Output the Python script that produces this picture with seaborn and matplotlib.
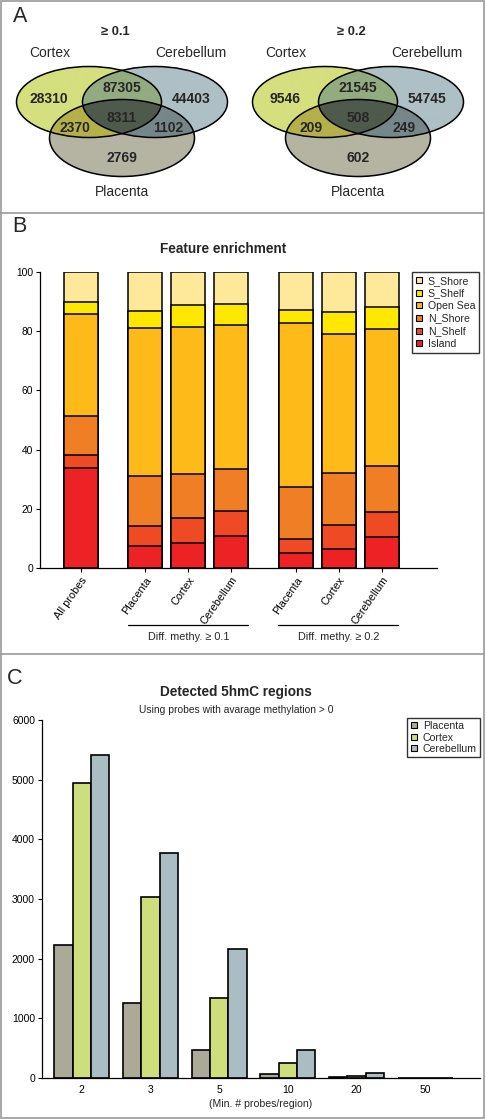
import numpy as np
import pandas as pd
import matplotlib
matplotlib.use("Agg")
import matplotlib.pyplot as plt
import seaborn as sns
from matplotlib.patches import Ellipse, Rectangle
from matplotlib.lines import Line2D

# --- Panel A : Venn counts (Cortex only, Cerebellum only, Placenta only,
#     Cx&Cb, Cx&Pl, Cb&Pl, all three)
venn_titles = ["\u2265 0.1", "\u2265 0.2"]
venn_sets = ["Cortex", "Cerebellum", "Placenta"]
venn_counts_01 = [28310, 44403, 2769, 87305, 2370, 1102, 8311]
venn_counts_02 = [9546, 54745, 602, 21545, 209, 249, 508]

# --- Panel B : feature enrichment (% of probes per feature)
features = ["Island", "N_Shelf", "N_Shore", "Open Sea", "S_Shelf", "S_Shore"]
samples = ["All probes", "Placenta", "Cortex", "Cerebellum", "Placenta", "Cortex", "Cerebellum"]
island = [33.7, 7.5, 8.6, 10.9, 5.0, 6.5, 10.4]
n_shelf = [4.6, 6.6, 8.2, 8.4, 4.7, 8.1, 8.4]
n_shore = [13.2, 17.1, 14.8, 14.3, 17.6, 17.6, 15.6]
open_sea = [34.2, 49.9, 49.8, 48.4, 55.4, 46.8, 46.3]
s_shelf = [4.3, 5.7, 7.5, 7.2, 4.4, 7.5, 7.6]
s_shore = [10.0, 13.2, 11.1, 10.8, 12.9, 13.5, 11.7]
group_labels = ["Diff. methy. \u2265 0.1", "Diff. methy. \u2265 0.2"]

# --- Panel C : detected 5hmC regions
min_probes = ["2", "3", "5", "10", "20", "50"]
tissues = ["Placenta", "Cortex", "Cerebellum"]
placenta_regions = [2232, 1261, 469, 73, 10, 2]
cortex_regions = [4951, 3026, 1345, 246, 40, 5]
cerebellum_regions = [5420, 3779, 2155, 475, 78, 8]

sns.set_theme(style="white")
plt.rcParams["font.family"] = ["Liberation Sans", "DejaVu Sans"]

W, H = 486, 1119
fig = plt.figure(figsize=(W / 100, H / 100), dpi=100)


def fx(x):
    return x / W


def fy(y):
    return 1 - y / H


# frame lines
frame = "#9a9a9a"
fig.add_artist(Rectangle((fx(0.5), fy(1117.5)), fx(484) - fx(0.5), fy(0.5) - fy(1117.5),
                         transform=fig.transFigure, fill=False, edgecolor=frame, lw=1.2))
for yy in [213, 654]:
    fig.add_artist(Line2D([0, fx(484)], [fy(yy), fy(yy)], transform=fig.transFigure,
                          color=frame, lw=1.2))

for letter, (lx, ly) in zip("ABC", [(20, 17), (19, 227), (15, 678)]):
    fig.text(fx(lx), fy(ly), letter, ha="center", va="center", fontsize=15.5)

# ---------------- Panel A ----------------
axA = fig.add_axes([0, fy(212), 1, 212 / H])
axA.set_xlim(0, W)
axA.set_ylim(212, 0)
axA.axis("off")

region_colors = ["#d5df7e", "#aec0c5", "#b5b4a3", "#93ab80", "#b4b04a", "#76868a", "#4e5a4c"]
ell_dx, ell_w, ell_h, pl_h = 33, 145, 71, 77
venn_cx = [122, 358]

xs = np.linspace(0, W, 2 * W + 1)
ys = np.linspace(0, 212, 2 * 212 + 1)
gx, gy = np.meshgrid(xs, ys)
img = np.zeros(gx.shape + (4,))


def inside(cx, cy, w, h):
    return ((gx - cx) / (w / 2)) ** 2 + ((gy - cy) / (h / 2)) ** 2 <= 1


code_to_region = {1: 0, 2: 1, 4: 2, 3: 3, 5: 4, 6: 5, 7: 6}
ellipses = []
for cx in venn_cx:
    geo = [(cx - ell_dx, 102, ell_w, ell_h), (cx + ell_dx, 102, ell_w, ell_h), (cx, 138, ell_w, pl_h)]
    ellipses.append(geo)
    code = sum(inside(*g).astype(int) * (2 ** i) for i, g in enumerate(geo))
    for c, r in code_to_region.items():
        img[code == c] = matplotlib.colors.to_rgba(region_colors[r])

axA.imshow(img, extent=(0, W, 212, 0), interpolation="antialiased", zorder=1)

count_offsets = [(-73, 99), (69, 99), (0, 158), (0, 88), (-47, 128), (46, 128), (0, 118)]
for cx, geo, counts, title in zip(venn_cx, ellipses, [venn_counts_01, venn_counts_02], venn_titles):
    for g in geo:
        axA.add_patch(Ellipse((g[0], g[1]), g[2], g[3], fill=False, edgecolor="black", lw=1.1, zorder=2))
    for (dx, yy), n in zip(count_offsets, counts):
        axA.text(cx + dx, yy, str(n), ha="center", va="center", fontsize=10, fontweight="bold", zorder=3)
    axA.text(cx - 72, 53, venn_sets[0], ha="center", va="center", fontsize=10)
    axA.text(cx + 69, 53, venn_sets[1], ha="center", va="center", fontsize=10)
    axA.text(cx, 192, venn_sets[2], ha="center", va="center", fontsize=10)
    axA.text(cx - 7, 32, title, ha="center", va="center", fontsize=9.3, fontweight="bold")

# ---------------- Panel B ----------------
axB = fig.add_axes([fx(40), fy(568), (437 - 40) / W, (568 - 272) / H])
bar_pos = [0, 1.5, 2.5, 3.5, 5, 6, 7]
feat_colors = ["#ed2224", "#ee4b24", "#ef7e24", "#fdba18", "#ffe800", "#fee99b"]
seg = np.array([island, n_shelf, n_shore, open_sea, s_shelf, s_shore])
cum = np.cumsum(seg, axis=0)
dfB = pd.DataFrame({"pos": bar_pos, "sample": samples})
for i in range(len(features) - 1, -1, -1):
    dfB["cum"] = np.minimum(cum[i], 100)
    sns.barplot(data=dfB, x="pos", y="cum", native_scale=True, color=feat_colors[i], saturation=1,
                edgecolor="black", linewidth=1.1, width=0.79, errorbar=None, ax=axB)

axB.set_xlim(-0.95, 8.28)
axB.set_ylim(0, 100)
axB.set_yticks(range(0, 101, 20))
axB.set_xticks(bar_pos)
axB.set_xticklabels(samples, rotation=55, ha="right", rotation_mode="anchor", fontsize=7.8)
axB.tick_params(axis="y", labelsize=7.4, length=3, width=0.8, left=True, pad=2, colors="black")
axB.tick_params(axis="x", length=3, width=0.8, bottom=True, pad=2, colors="black")
axB.set_xlabel("")
axB.set_ylabel("")
for s in ["top", "right"]:
    axB.spines[s].set_visible(False)
for s in ["left", "bottom"]:
    axB.spines[s].set_color("black")
    axB.spines[s].set_linewidth(0.9)

for (a, b), lab in zip([(1.5, 3.5), (5, 7)], group_labels):
    axB.plot([a - 0.41, b + 0.38], [-0.193, -0.193], color="black", lw=0.9, clip_on=False,
             transform=axB.get_xaxis_transform())
    axB.text((a + b) / 2, -0.233, lab, ha="center", va="center", fontsize=7.8,
             transform=axB.get_xaxis_transform())

handlesB = [Line2D([], [], marker="s", ls="", markersize=5, markerfacecolor=feat_colors[i],
                   markeredgecolor="black", markeredgewidth=0.8) for i in range(len(features) - 1, -1, -1)]
legB = axB.legend(handlesB, features[::-1], loc="upper right", bbox_to_anchor=(1.106, 1.0),
                  fontsize=7.6, frameon=True, fancybox=False, borderaxespad=0, handlelength=0.8,
                  handletextpad=0.4, labelspacing=0.25, borderpad=0.35)
legB.get_frame().set_edgecolor("black")
legB.get_frame().set_linewidth(1.0)
fig.text(fx(223), fy(249), "Feature enrichment", ha="center", va="center", fontsize=9.8, fontweight="bold")

# ---------------- Panel C ----------------
axC = fig.add_axes([fx(42), fy(1078), (480 - 42) / W, (1078 - 720) / H])
dfC = pd.DataFrame({
    "probes": min_probes * 3,
    "tissue": np.repeat(tissues, len(min_probes)),
    "regions": placenta_regions + cortex_regions + cerebellum_regions,
})
sns.barplot(data=dfC, x="probes", y="regions", hue="tissue", order=min_probes, hue_order=tissues,
            palette=["#abaa98", "#cfde7c", "#aabdc2"], saturation=1, edgecolor="black",
            linewidth=1.2, width=0.8, errorbar=None, ax=axC)
axC.set_xlim(-0.58, 5.8)
axC.set_ylim(0, 6000)
axC.set_yticks(range(0, 6001, 1000))
axC.tick_params(axis="y", labelsize=7.5, length=3, width=0.8, left=True, pad=2, colors="black")
axC.tick_params(axis="x", labelsize=7.5, length=0, pad=5, colors="black")
axC.set_xlabel("(Min. # probes/region)", fontsize=7.6, labelpad=3)
axC.set_ylabel("")
for s in ["top", "right"]:
    axC.spines[s].set_visible(False)
for s in ["left", "bottom"]:
    axC.spines[s].set_color("black")
    axC.spines[s].set_linewidth(0.9)
handlesC = [Line2D([], [], marker="s", ls="", markersize=5, markerfacecolor=c,
                   markeredgecolor="black", markeredgewidth=0.8) for c in ["#abaa98", "#cfde7c", "#aabdc2"]]
legC = axC.legend(handlesC, tissues, loc="upper right", bbox_to_anchor=(1.0, 1.006), fontsize=7.6,
                  frameon=True, fancybox=False, borderaxespad=0, handlelength=0.8,
                  handletextpad=0.4, labelspacing=0.15, borderpad=0.3)
legC.get_frame().set_edgecolor("black")
legC.get_frame().set_linewidth(1.0)
fig.text(fx(236), fy(692), "Detected 5hmC regions", ha="center", va="center", fontsize=9.8, fontweight="bold")
fig.text(fx(236), fy(710), "Using probes with avarage methylation > 0", ha="center", va="center", fontsize=7.4)

fig.savefig("out.png", dpi=100)
